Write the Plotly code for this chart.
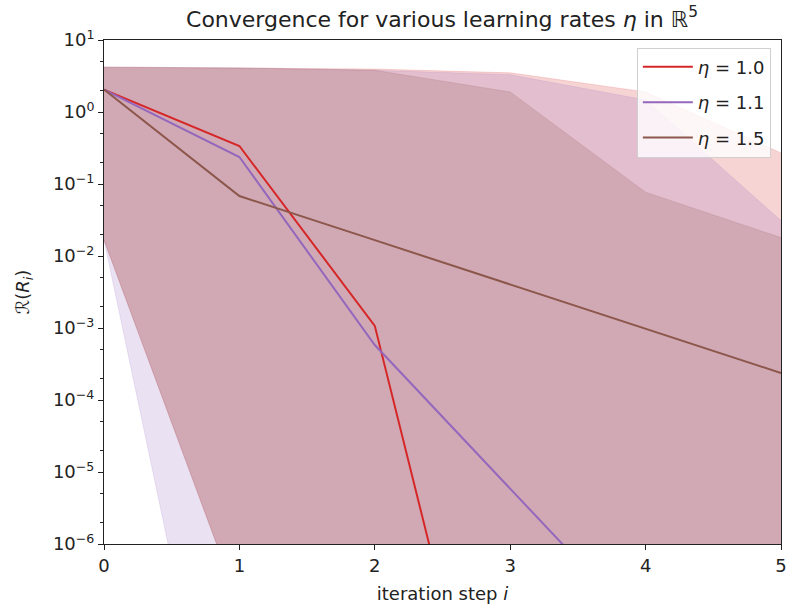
import plotly.graph_objects as go

# iteration steps
steps = [0, 1, 2, 3, 4, 5]

# mean loss per learning rate
loss_eta_10 = [2.05, 0.337, 1.07e-3, 3.0e-11, 1.0e-15, 1.0e-19]
loss_eta_11 = [2.05, 0.237, 5.8e-4, 5.8e-6, 6.0e-8, 6.0e-10]
loss_eta_15 = [2.05, 0.068, 0.0166, 4.0e-3, 9.7e-4, 2.37e-4]

# spread (upper / lower envelope) per learning rate
upper_eta_10 = [4.2, 4.1, 3.95, 3.5, 1.9, 0.27]
lower_eta_10 = [0.0167, 1.4e-7, 1.0e-10, 1.0e-13, 1.0e-16, 1.0e-19]
upper_eta_11 = [4.2, 4.1, 3.8, 3.3, 1.47, 0.031]
lower_eta_11 = [0.0167, 2.0e-11, 1.0e-13, 1.0e-15, 1.0e-17, 1.0e-19]
upper_eta_15 = [4.2, 4.1, 3.8, 1.9, 0.077, 0.018]
lower_eta_15 = [0.0167, 1.4e-7, 1.0e-9, 1.0e-11, 1.0e-13, 1.0e-15]

labels = ["<i>η</i> = 1.0", "<i>η</i> = 1.1", "<i>η</i> = 1.5"]
colors = ["#d62728", "#9467bd", "#8c564b"]
fills = ["rgba(214,39,40,0.2)", "rgba(148,103,189,0.2)", "rgba(140,86,75,0.2)"]

means = [loss_eta_10, loss_eta_11, loss_eta_15]
uppers = [upper_eta_10, upper_eta_11, upper_eta_15]
lowers = [lower_eta_10, lower_eta_11, lower_eta_15]

fig = go.Figure()

# shaded envelopes
for lo, up, fc in zip(lowers, uppers, fills):
    fig.add_trace(go.Scatter(x=steps, y=lo, mode="lines",
                             line=dict(color=fc, width=0.8),
                             showlegend=False, hoverinfo="skip"))
    fig.add_trace(go.Scatter(x=steps, y=up, mode="lines",
                             line=dict(color=fc, width=0.8),
                             fill="tonexty", fillcolor=fc,
                             showlegend=False, hoverinfo="skip"))

# mean curves
for k, (m, lab, c) in enumerate(zip(means, labels, colors)):
    fig.add_trace(go.Scatter(x=steps, y=m, mode="lines", name=lab,
                             legendgroup="g%d" % k,
                             line=dict(color=c, width=2)))

font = "DejaVu Sans, sans-serif"
decades = list(range(-6, 2))
tickvals = [10.0 ** d for d in decades]
ticktext = ["10<sup>%s</sup>" % (str(d).replace("-", "−")) for d in decades]

fig.update_layout(
    width=787, height=609,
    margin=dict(l=104, r=6, t=40, b=65),
    paper_bgcolor="white", plot_bgcolor="white",
    font=dict(family=font, size=18, color="#222"),
    title=dict(text="Convergence for various learning rates <i>η</i> in ℝ<sup>5</sup>",
               x=442 / 787, xanchor="center",
               y=1 - 19 / 609, yanchor="middle",
               font=dict(family=font, size=22, color="#222")),
    legend=dict(x=0.985, y=0.985, xanchor="right", yanchor="top",
                traceorder="grouped", tracegroupgap=9, itemwidth=50,
                bgcolor="rgba(255,255,255,0.8)", bordercolor="#d0d0d0",
                borderwidth=1, font=dict(family=font, size=18)),
    showlegend=True,
)

fig.update_xaxes(
    range=[0, 5], tickvals=steps, ticks="outside", ticklen=5, tickwidth=1,
    tickcolor="#222", showline=True, linecolor="#222", linewidth=1,
    mirror=True, showgrid=False, zeroline=False, automargin=False,
    title=dict(text="iteration step <i>i</i>", standoff=12,
               font=dict(family=font, size=18)),
)

fig.update_yaxes(
    type="log", range=[-6, 1], tickvals=tickvals, ticktext=ticktext,
    ticks="outside", ticklen=5, tickwidth=1, tickcolor="#222",
    showline=True, linecolor="#222", linewidth=1, mirror=True,
    showgrid=False, zeroline=False, automargin=False,
    minor=dict(ticks="outside", ticklen=3, tickwidth=1, tickcolor="#222",
               showgrid=False),
    title=dict(text="ℛ(<i>R<sub>i</sub></i>)", standoff=18,
               font=dict(family=font, size=18)),
)

fig.write_html("out.html")
